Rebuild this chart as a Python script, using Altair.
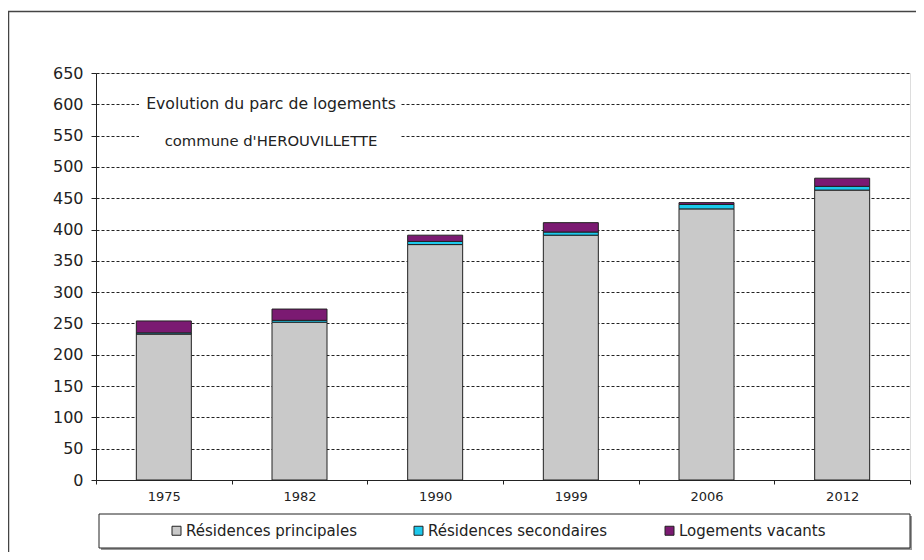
import altair as alt
import pandas as pd

years = ["1975", "1982", "1990", "1999", "2006", "2012"]
principales = [233, 252, 376, 391, 433, 463]
secondaires = [2, 3, 5, 5, 7, 6]
vacants = [19, 18, 10, 15, 3, 13]
series = ["Résidences principales", "Résidences secondaires", "Logements vacants"]
colors = ["#C9C9C9", "#1CC8EC", "#7B1A72"]
title_lines = ["Evolution du parc de logements", "commune d'HEROUVILLETTE"]
y_ticks = list(range(0, 651, 50))

rows = []
for i, y in enumerate(years):
    for k, (s, vals) in enumerate(zip(series, [principales, secondaires, vacants])):
        rows.append({"annee": y, "type": s, "valeur": vals[i], "ordre": k})
df = pd.DataFrame(rows)

FONT = "DejaVu Sans"
W, H = 814, 407

frame = alt.Chart(pd.DataFrame({"a": [0]})).mark_rect(
    fillOpacity=0, stroke="#444", strokeWidth=1.5
).encode(x=alt.value(-87.5), x2=alt.value(840), y=alt.value(-61.5), y2=alt.value(520))

bars = alt.Chart(df).mark_bar(size=55, stroke="#222", strokeWidth=1).encode(
    x=alt.X("annee:N", sort=years, title=None,
            scale=alt.Scale(paddingInner=0, paddingOuter=0),
            axis=alt.Axis(labelAngle=0, tickBand="extent", tickSize=4, labelPadding=6,
                          labelFont=FONT, labelFontSize=13, labelColor="#222",
                          domainColor="#222", tickColor="#222", grid=False)),
    y=alt.Y("valeur:Q", stack="zero", title=None,
            scale=alt.Scale(domain=[0, 650], nice=False),
            axis=alt.Axis(values=y_ticks, tickSize=5, labelPadding=8,
                          labelFont=FONT, labelFontSize=16, labelColor="#222",
                          domainColor="#222", tickColor="#222",
                          grid=True, gridColor="#222", gridDash=[3, 2], gridWidth=1)),
    color=alt.Color("type:N", sort=series, title=None,
                    scale=alt.Scale(domain=series, range=colors),
                    legend=alt.Legend(orient="none", legendX=73, legendY=450,
                                      direction="horizontal", symbolType="square",
                                      symbolSize=81, symbolStrokeColor="#222",
                                      symbolStrokeWidth=1, labelFont=FONT,
                                      labelFontSize=15, labelColor="#222",
                                      labelLimit=400,
                                      labelOffset=2, columnPadding=54)),
    order=alt.Order("ordre:Q"),
)

boxes = alt.Chart(pd.DataFrame({"a": [0]})).mark_rect(fill="white").encode(
    x=alt.value(43), x2=alt.value(304), y=alt.value(20), y2=alt.value(43))
boxes2 = alt.Chart(pd.DataFrame({"a": [0]})).mark_rect(fill="white").encode(
    x=alt.value(43), x2=alt.value(304), y=alt.value(57), y2=alt.value(82))

t1 = alt.Chart(pd.DataFrame({"t": [title_lines[0]]})).mark_text(
    font=FONT, fontSize=15.7, color="#222", align="center", baseline="middle"
).encode(x=alt.value(175), y=alt.value(31), text="t:N")
t2 = alt.Chart(pd.DataFrame({"t": [title_lines[1]]})).mark_text(
    font=FONT, fontSize=14.8, color="#222", align="center", baseline="middle"
).encode(x=alt.value(175), y=alt.value(69), text="t:N")

leg_shadow = alt.Chart(pd.DataFrame({"a": [0]})).mark_rect(fill="#999").encode(
    x=alt.value(5), x2=alt.value(816), y=alt.value(443), y2=alt.value(477))
leg_box = alt.Chart(pd.DataFrame({"a": [0]})).mark_rect(
    fill="white", stroke="#222", strokeWidth=1
).encode(x=alt.value(3), x2=alt.value(814), y=alt.value(441), y2=alt.value(475))

chart = alt.layer(frame, bars, boxes, boxes2, t1, t2, leg_shadow, leg_box).properties(
    width=W, height=H,
    autosize=alt.AutoSizeParams(type="none"),
    padding={"left": 88, "top": 65, "right": 6, "bottom": 72},
).configure_view(stroke="#aaa").configure(background="white")

chart.save("out.html", embed_options={"renderer": "svg", "actions": False})
